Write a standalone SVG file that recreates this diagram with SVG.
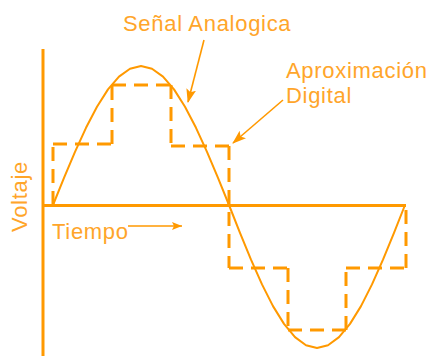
<svg xmlns="http://www.w3.org/2000/svg" width="430" height="356" viewBox="0 0 430 356">
<style>
.ax{stroke:#FF9900;stroke-width:3;fill:none}
.sig{stroke:#FF9900;stroke-width:2;fill:none;stroke-linejoin:round}
.dig line{stroke:#FF9900;stroke-width:3;stroke-dasharray:14 8}
.lbl{font-family:"Liberation Sans",Arial,sans-serif;font-size:22px;fill:#FFA52A;letter-spacing:0.7px}
.arr{stroke:#FF9900;stroke-width:1.6;fill:none}
</style>
<defs>
<marker id="ah" markerWidth="14" markerHeight="10" refX="13" refY="5" orient="auto" markerUnits="userSpaceOnUse">
<path d="M0,0 L14,5 L0,10 L3,5 Z" fill="#FF9900"/>
</marker>
<marker id="ahs" markerWidth="10" markerHeight="8" refX="10" refY="4" orient="auto" markerUnits="userSpaceOnUse">
<path d="M0,0 L10,4 L0,8 L2,4 Z" fill="#FF9900"/>
</marker>
</defs>
<rect width="430" height="356" fill="#FFFFFF"/>
<g id="axes">
<line class="ax" x1="43" y1="49" x2="43" y2="356"/>
<line class="ax" x1="43" y1="205.5" x2="406" y2="205.5"/>
</g>
<g id="analog-signal">
<polyline class="sig" points="53,205 64,177.9 75,151.8 86,127.8 97,106.7 108,89.4 119,76.6 130,68.7 141,66 152,68.7 163,76.6 174,89.4 185,106.7 196,127.8 207,151.8 218,177.9 229,205 240,232.9 251,259.7 262,284.4 273,306.1 284,323.9 295,337.1 306,345.3 317,348 328,345.3 339,337.1 350,323.9 361,306.1 372,284.4 383,259.7 394,232.9 405,205"/>
</g>
<g id="digital-approx" class="dig">
<line x1="53" y1="205" x2="53" y2="144"/>
<line x1="53" y1="144" x2="112" y2="144"/>
<line x1="112" y1="144" x2="112" y2="85"/>
<line x1="112" y1="85" x2="171" y2="85"/>
<line x1="171" y1="85" x2="171" y2="146"/>
<line x1="171" y1="146" x2="229" y2="146"/>
<line x1="229" y1="146" x2="229" y2="268"/>
<line x1="229" y1="268" x2="288" y2="268"/>
<line x1="288" y1="268" x2="288" y2="330"/>
<line x1="288" y1="330" x2="346" y2="330"/>
<line x1="346" y1="330" x2="346" y2="268"/>
<line x1="346" y1="268" x2="406" y2="268"/>
<line x1="406" y1="268" x2="406" y2="205"/>
</g>
<g id="connectors">
<line class="arr" x1="204" y1="40" x2="188" y2="102" marker-end="url(#ah)"/>
<line class="arr" x1="283" y1="100" x2="233" y2="143" marker-end="url(#ah)"/>
<line class="arr" x1="128" y1="226" x2="182" y2="226" marker-end="url(#ahs)"/>
</g>
<g id="label-senal"><text class="lbl" x="123" y="31">Señal Analogica</text></g>
<g id="label-aprox"><text class="lbl" x="286" y="78">Aproximación</text><text class="lbl" x="286" y="103">Digital</text></g>
<g id="label-voltaje"><text class="lbl" transform="translate(27,232) rotate(-90)">Voltaje</text></g>
<g id="label-tiempo"><text class="lbl" x="52" y="239">Tiempo</text></g>
</svg>
